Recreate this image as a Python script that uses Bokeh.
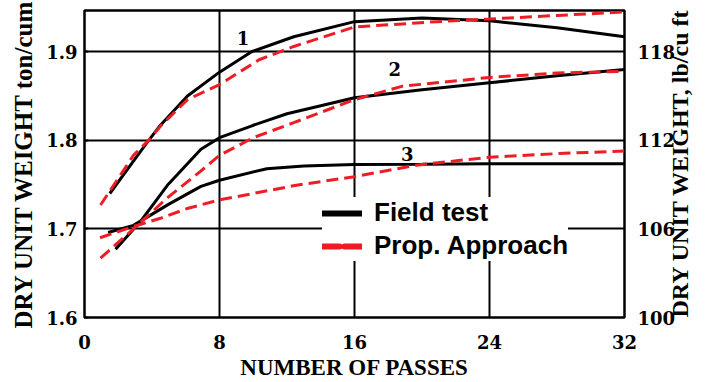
import math
from bokeh.plotting import figure
from bokeh.models import Range1d, LinearAxis, FixedTicker, Legend, LegendItem
from bokeh.core.properties import value
from bokeh.embed import file_html
from bokeh.resources import INLINE

# ---- data ----
x_ticks = [0, 8, 16, 24, 32]
y_ticks_ton = [1.6, 1.7, 1.8, 1.9]
y_ticks_lb = [100, 106, 112, 118]

field1_x = [1.5, 2.5, 3.8, 4.5, 6.1, 8, 9.9, 12.4, 16, 20, 24, 28, 32]
field1_y = [1.740, 1.766, 1.800, 1.817, 1.850, 1.877, 1.900, 1.917, 1.934, 1.938, 1.935, 1.927, 1.917]
prop1_x = [0.95, 2.9, 3.8, 4.5, 6.1, 8, 10.35, 12.4, 16, 20.9, 24, 28, 32]
prop1_y = [1.727, 1.783, 1.800, 1.816, 1.846, 1.863, 1.891, 1.906, 1.928, 1.934, 1.937, 1.941, 1.945]

field2_x = [1.84, 3.3, 4.9, 6.9, 8, 10, 12, 16, 20, 24, 28, 32]
field2_y = [1.677, 1.708, 1.749, 1.790, 1.803, 1.817, 1.830, 1.848, 1.857, 1.865, 1.873, 1.880]
prop2_x = [0.95, 2.9, 4.9, 6.87, 8, 10, 12.4, 16, 18.8, 24, 28, 32]
prop2_y = [1.667, 1.700, 1.735, 1.765, 1.783, 1.803, 1.820, 1.846, 1.861, 1.871, 1.876, 1.878]

field3_x = [1.4, 2.9, 5, 6.9, 8, 10.8, 13, 16, 20, 24, 28, 32]
field3_y = [1.696, 1.704, 1.728, 1.748, 1.755, 1.768, 1.771, 1.7726, 1.773, 1.7737, 1.7737, 1.7737]
prop3_x = [0.92, 2.94, 4.5, 6.08, 7.96, 12.46, 16, 19.66, 24, 28, 32]
prop3_y = [1.690, 1.703, 1.712, 1.723, 1.7326, 1.749, 1.759, 1.772, 1.781, 1.785, 1.788]

curve_labels = ["1", "2", "3"]
curve_label_x = [9.39, 18.39, 19.13]
curve_label_y = [1.9157, 1.880, 1.785]

series_names = ["Field test", "Prop. Approach"]
x_title = "NUMBER OF PASSES"
y_title_left = "DRY UNIT WEIGHT ton/cum"
y_title_right = "DRY UNIT WEIGHT, lb/cu ft"

RED = "#ee1c25"
SERIF = "Liberation Serif"
TICKFONT = "DejaVu Serif"

Y0, Y1 = 1.6, 1.9466

p = figure(width=709, height=382, output_backend="svg", toolbar_location=None,
           x_range=Range1d(0, 32), y_range=Range1d(Y0, Y1),
           min_border_left=84, min_border_right=85, min_border_top=10, min_border_bottom=62)
p.background_fill_color = "white"
p.border_fill_color = "white"
p.outline_line_color = "black"
p.outline_line_width = 2.5

p.extra_y_ranges = {"lb": Range1d(100, 100 + (Y1 - Y0) / 0.1 * 6)}

# grid
p.xgrid.ticker = FixedTicker(ticks=[8, 16, 24])
p.ygrid.ticker = FixedTicker(ticks=[1.7, 1.8, 1.9])
for g in (p.xgrid, p.ygrid):
    g.grid_line_color = "black"
    g.grid_line_width = 2
    g.grid_line_alpha = 1

# axes
xa = p.xaxis[0]
xa.ticker = FixedTicker(ticks=x_ticks)
xa.axis_label = x_title
ya = p.yaxis[0]
ya.ticker = FixedTicker(ticks=y_ticks_ton)
ya.axis_label = y_title_left
ra = LinearAxis(y_range_name="lb", ticker=FixedTicker(ticks=y_ticks_lb),
                axis_label=y_title_right)
p.add_layout(ra, "right")

for ax in (xa, ya, ra):
    ax.axis_line_color = None
    ax.major_tick_out = 0
    ax.major_tick_in = 0
    ax.minor_tick_line_color = None
    ax.major_label_text_font = TICKFONT
    ax.major_label_text_font_style = "bold"
    ax.major_label_text_font_size = "18px"
    ax.major_label_text_color = "black"
    ax.axis_label_text_font = SERIF
    ax.axis_label_text_font_style = "bold"
    ax.axis_label_text_color = "black"
ya.major_tick_in = 4
ya.major_tick_line_width = 2
xa.major_label_standoff = 17
xa.axis_label_standoff = 3
xa.axis_label_text_font_size = "23px"
ya.major_label_standoff = 7
ya.axis_label_standoff = 6
ya.axis_label_text_font_size = "25px"
ra.major_label_standoff = 13
ra.axis_label_standoff = 2
ra.axis_label_text_font_size = "24px"
ra.axis_label_orientation = math.pi / 2
ra.axis_label_align = "start"

# curves
for xs, ys in ((field1_x, field1_y), (field2_x, field2_y), (field3_x, field3_y)):
    p.line(xs, ys, line_color="black", line_width=3)
for xs, ys in ((prop1_x, prop1_y), (prop2_x, prop2_y), (prop3_x, prop3_y)):
    p.line(xs, ys, line_color=RED, line_width=3, line_dash="12 6")

p.text(x=curve_label_x, y=curve_label_y, text=curve_labels,
       text_font=value(TICKFONT), text_font_style="bold", text_font_size="18px",
       text_align="center", text_baseline="middle", text_color="black")

# legend samples (thicker lines, placed outside the visible range)
leg_f = p.line(x=[-10, -9], y=[1.0, 1.0], line_color="black", line_width=6, line_cap="round")
leg_p = p.line(x=[-10, -9], y=[1.0, 1.0], line_color=RED, line_width=6, line_dash="17 5", line_cap="round")
legend = Legend(items=[LegendItem(label=series_names[0], renderers=[leg_f]),
                       LegendItem(label=series_names[1], renderers=[leg_p])],
                location=(238, 56))
legend.background_fill_color = "white"
legend.background_fill_alpha = 1
legend.border_line_color = None
legend.label_text_font = "Liberation Sans"
legend.label_text_font_style = "bold"
legend.label_text_font_size = "26px"
legend.label_text_color = "black"
legend.glyph_width = 40
legend.glyph_height = 30
legend.label_height = 30
legend.label_standoff = 12
legend.padding = 12
legend.spacing = 2
legend.margin = 0
p.add_layout(legend)

open("out.html", "w").write(file_html(p, INLINE))
